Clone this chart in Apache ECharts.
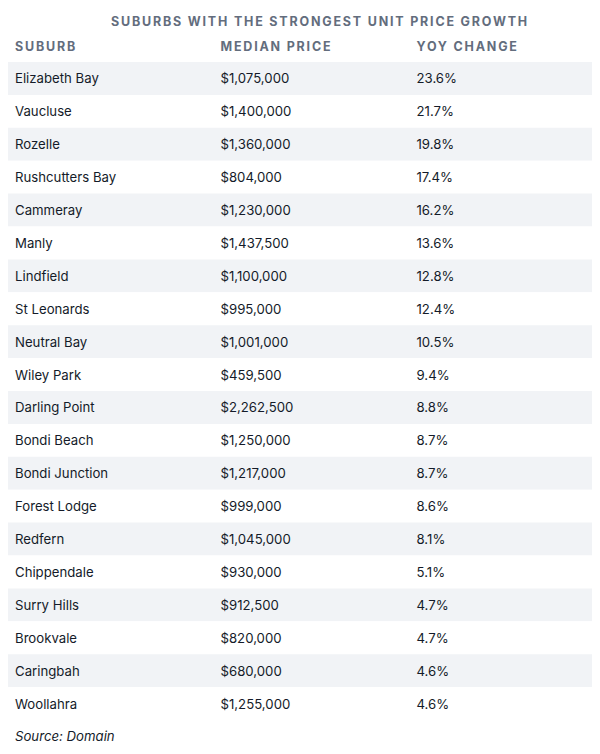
<!DOCTYPE html>
<html>
<head>
<meta charset="utf-8">
<script src="https://cdn.jsdelivr.net/npm/echarts@6/dist/echarts.min.js"></script>
<style>
html,body{margin:0;padding:0;background:#fff;}
#chart{width:600px;height:754px;}
#chart svg text[style*="bold"]{letter-spacing:1.8px;}
</style>
</head>
<body>
<div id="chart"></div>
<script>
const titleText = 'SUBURBS WITH THE STRONGEST UNIT PRICE GROWTH';
const headers = ['SUBURB', 'MEDIAN PRICE', 'YOY CHANGE'];
const suburbs = ['Elizabeth Bay','Vaucluse','Rozelle','Rushcutters Bay','Cammeray','Manly','Lindfield','St Leonards','Neutral Bay','Wiley Park','Darling Point','Bondi Beach','Bondi Junction','Forest Lodge','Redfern','Chippendale','Surry Hills','Brookvale','Caringbah','Woollahra'];
const medianPrices = [1075000,1400000,1360000,804000,1230000,1437500,1100000,995000,1001000,459500,2262500,1250000,1217000,999000,1045000,930000,912500,820000,680000,1255000];
const yoyChange = [23.6,21.7,19.8,17.4,16.2,13.6,12.8,12.4,10.5,9.4,8.8,8.7,8.7,8.6,8.1,5.1,4.7,4.7,4.6,4.6];
const sourceText = 'Source: Domain';

const FONT = 'Inter, "Noto Sans", sans-serif';
const TEXT_COLOR = '#141b29';
const HEAD_COLOR = '#636d7d';
const colX = [15, 220.5, 416.5];

const chart = echarts.init(document.getElementById('chart'), null, {renderer: 'svg'});
const fmtPrice = v => '$' + v.toLocaleString('en-US');

chart.setOption({
  animation: false,
  backgroundColor: '#ffffff',
  grid: {left: 8, right: 8, top: 62, height: 658},
  xAxis: {type: 'value', min: 0, max: 1, show: false},
  yAxis: {
    type: 'category', data: suburbs, inverse: true,
    axisLine: {show: false}, axisTick: {show: false}, axisLabel: {show: false},
    splitLine: {show: false},
    splitArea: {show: true, areaStyle: {color: ['#f1f3f6', '#ffffff']}}
  },
  graphic: [{
    type: 'text', x: 320, y: 21,
    style: {text: titleText, fontFamily: FONT, fontSize: 12.5, fontWeight: 'bold', fill: HEAD_COLOR, align: 'center', verticalAlign: 'middle'}
  }].concat(headers.map((h, i) => ({
    type: 'text', x: colX[i], y: 46,
    style: {text: h, fontFamily: FONT, fontSize: 12.5, fontWeight: 'bold', fill: HEAD_COLOR, align: 'left', verticalAlign: 'middle'}
  }))).concat([{
    type: 'text', x: 15, y: 735.5,
    style: {text: sourceText, fontFamily: FONT, fontSize: 13.2, fontStyle: 'italic', fill: TEXT_COLOR, align: 'left', verticalAlign: 'middle'}
  }]),
  series: [{
    type: 'custom',
    data: suburbs.map((s, i) => [0, s, medianPrices[i], yoyChange[i]]),
    encode: {x: 0, y: 1},
    renderItem: function (params, api) {
      const i = params.dataIndex;
      const y = api.coord([0, suburbs[i]])[1];
      const texts = [suburbs[i], fmtPrice(medianPrices[i]), yoyChange[i].toFixed(1) + '%'];
      return {
        type: 'group',
        children: texts.map((t, c) => ({
          type: 'text',
          x: colX[c], y: y,
          style: {text: t, fontFamily: FONT, fontSize: 13.2, fill: TEXT_COLOR, verticalAlign: 'middle', align: 'left'}
        }))
      };
    }
  }]
});
</script>
</body>
</html>
